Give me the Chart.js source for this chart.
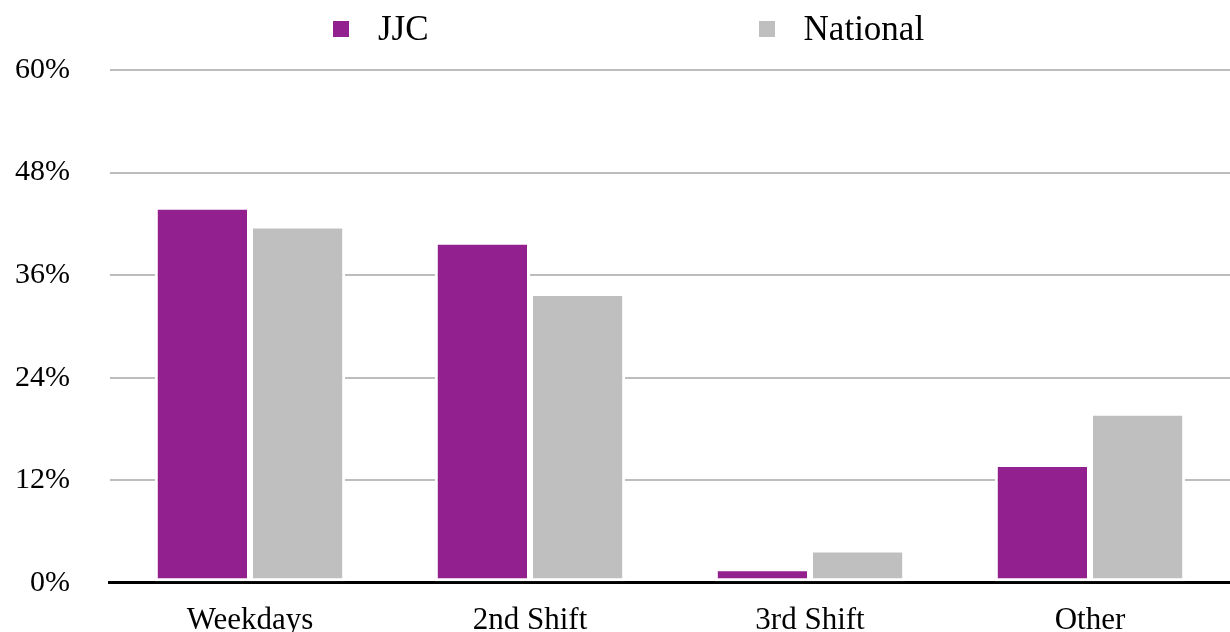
<!DOCTYPE html>
<html>
<head>
<meta charset="utf-8">
<script src="https://cdn.jsdelivr.net/npm/chart.js@4/dist/chart.umd.min.js"></script>
<style>
    html, body { margin: 0; padding: 0; background: #fff; overflow: hidden; }
    #wrap { position: relative; width: 1230px; height: 670px; }
    #legend {
        position: absolute; left: 333px; top: 9px;
        display: flex; align-items: center; gap: 330px;
        font-family: "Liberation Serif", serif; font-size: 35px; color: #000;
    }
    .item { display: flex; align-items: center; }
    .box { width: 16px; height: 16px; margin-right: 29px; }
</style>
</head>
<body>
<div id="wrap">
    <div id="legend"></div>
    <canvas id="shiftChart" width="1230" height="670"></canvas>
</div>
<script>
// Données
const categories = ['Weekdays', '2nd Shift', '3rd Shift', 'Other'];
const jjcValues = [44.0, 39.9, 1.7, 13.9];
const nationalValues = [41.8, 33.9, 3.9, 19.9];
const yTicks = [0, 12, 24, 36, 48, 60];

const seriesNames = ['JJC', 'National'];
const seriesColors = ['#92208f', '#bfbfbf'];
const fontFamily = '"Liberation Serif", serif';

// Légende HTML
const legend = document.getElementById('legend');
seriesNames.forEach((name, i) => {
    const item = document.createElement('div');
    item.className = 'item';
    const box = document.createElement('span');
    box.className = 'box';
    box.style.background = seriesColors[i];
    const label = document.createElement('span');
    label.textContent = name;
    item.appendChild(box);
    item.appendChild(label);
    legend.appendChild(item);
});

const ctx = document.getElementById('shiftChart').getContext('2d');
new Chart(ctx, {
    type: 'bar',
    data: {
        labels: categories,
        datasets: [
            { label: seriesNames[0], data: jjcValues, backgroundColor: seriesColors[0] },
            { label: seriesNames[1], data: nationalValues, backgroundColor: seriesColors[1] }
        ].map(d => ({
            ...d,
            borderColor: '#ffffff',
            borderWidth: 3,
            borderSkipped: false,
            categoryPercentage: 0.68,
            barPercentage: 1.0
        }))
    },
    options: {
        responsive: false,
        animation: false,
        layout: { padding: { top: 70, left: -25, right: 0, bottom: 20 } },
        plugins: {
            legend: { display: false },
            tooltip: { enabled: false }
        },
        scales: {
            x: {
                grid: { display: false },
                border: { display: true, color: '#000', width: 3 },
                ticks: { color: '#000', font: { family: fontFamily, size: 31 }, padding: 11 }
            },
            y: {
                min: 0,
                max: 60,
                afterBuildTicks: axis => { axis.ticks = yTicks.map(v => ({ value: v })); },
                border: { display: false },
                grid: {
                    drawTicks: false,
                    color: c => c.tick.value === 0 ? '#000' : '#bdbdbd',
                    lineWidth: c => c.tick.value === 0 ? 3 : 2
                },
                ticks: {
                    color: '#000',
                    padding: 40,
                    font: { family: fontFamily, size: 30 },
                    callback: v => v + '%'
                }
            }
        }
    }
});
</script>
</body>
</html>
